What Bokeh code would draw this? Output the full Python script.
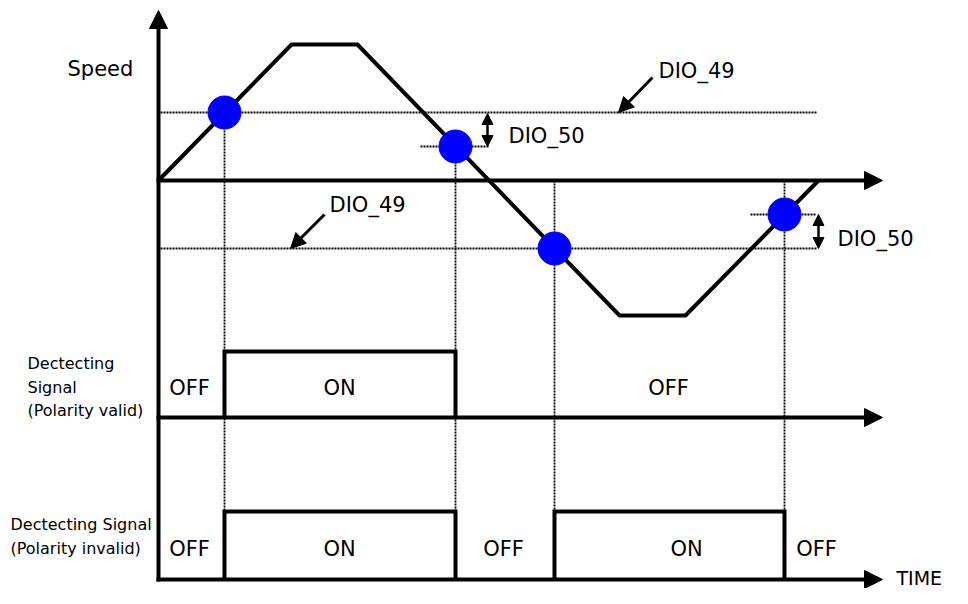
from bokeh.plotting import figure
from bokeh.models import ColumnDataSource, Range1d, Arrow, NormalHead
from bokeh.core.properties import value
from bokeh.embed import file_html
from bokeh.resources import INLINE

# ---------------- data (time units / speed units) ----------------
profile_t = [0, 133, 199, 461, 527, 660]
profile_speed = [0, 136, 136, -135, -135, 0]

dio49_level = 68          # DIO_49 speed threshold
dio50_hyst = 34           # DIO_50 hysteresis width

event_t = [66, 297, 396, 626]
event_speed = [68, 34, -68, -34]

sig_edges = [0, 66, 297, 396, 626, 724]
valid_state = [0, 1, 0, 0, 0]
invalid_state = [0, 1, 0, 1, 0]

valid_labels = ["OFF", "ON", "OFF"]
valid_label_t = [31, 181, 510]
invalid_labels = ["OFF", "ON", "OFF", "ON", "OFF"]
invalid_label_t = [31, 181, 345, 528, 658]

# levels of the three traces (speed axis, valid signal, invalid signal)
speed_zero = 0
valid_base, valid_high, valid_label_y = -237, -171, -207
invalid_base, invalid_high, invalid_label_y = -399, -331, -368
time_end = 724
speed_top = 170

FONT = value("DejaVu Sans")

p = figure(width=952, height=588, output_backend="svg", toolbar_location=None,
           x_range=Range1d(-158, 794), y_range=Range1d(-408, 180),
           x_axis_location=None, y_axis_location=None, min_border=0)
p.outline_line_color = None
p.xgrid.visible = False
p.ygrid.visible = False
p.background_fill_color = "white"

# threshold dashed lines
thr_xs = [[2, 658], [2, 658], [262, 330], [592, 658]]
thr_ys = [[dio49_level] * 2, [-dio49_level] * 2,
          [dio49_level - dio50_hyst] * 2, [-dio49_level + dio50_hyst] * 2]
p.multi_line(thr_xs, thr_ys, line_color="black", line_width=2, line_dash="2 1")

# dotted vertical event markers
v_xs = [[t, t] for t in event_t]
v_ys = [[s if s > 0 else speed_zero, invalid_high] for s in event_speed]
p.multi_line(v_xs, v_ys, line_color="black", line_width=1.8, line_dash="2 1")

# speed profile
p.line(profile_t, profile_speed, line_color="black", line_width=4, line_join="miter")

# signal steps
def step_lines(states, base, high):
    xs, ys = [], []
    for i, s in enumerate(states):
        if s:
            t0, t1 = sig_edges[i], sig_edges[i + 1]
            xs.append([t0, t0, t1, t1])
            ys.append([base, high, high, base])
    return xs, ys

for st, b, h in [(valid_state, valid_base, valid_high), (invalid_state, invalid_base, invalid_high)]:
    xs, ys = step_lines(st, b, h)
    p.multi_line(xs, ys, line_color="black", line_width=4, line_join="miter")

# axes with arrow heads
def axis_arrow(x0, y0, x1, y1):
    p.add_layout(Arrow(end=NormalHead(size=18, fill_color="black", line_color="black", line_width=1),
                       x_start=x0, y_start=y0, x_end=x1, y_end=y1,
                       line_color="black", line_width=4))

axis_arrow(0, invalid_base - 2, 0, speed_top)
for lvl in [speed_zero, valid_base, invalid_base]:
    axis_arrow(-2, lvl, time_end, lvl)

# event dots
p.scatter(event_t, event_speed, size=33, fill_color="#0000FF", line_color="#0000FF")

# pointer arrows for DIO_49
for (x0, y0, x1, y1) in [(494, 103, 460, dio49_level), (166, -34, 132, -dio49_level)]:
    p.add_layout(Arrow(end=NormalHead(size=15, fill_color="black", line_color="black", line_width=1),
                       x_start=x0, y_start=y0, x_end=x1, y_end=y1,
                       line_color="black", line_width=3))

# double arrows for DIO_50
for (xx, ya, yb) in [(329, dio49_level - 1, dio49_level - dio50_hyst),
                     (660, -dio49_level + dio50_hyst, -dio49_level)]:
    p.add_layout(Arrow(start=NormalHead(size=11, fill_color="black", line_color="black", line_width=1),
                       end=NormalHead(size=11, fill_color="black", line_color="black", line_width=1),
                       x_start=xx, y_start=ya, x_end=xx, y_end=yb,
                       line_color="black", line_width=2.5))

# big labels
big = ColumnDataSource(dict(
    x=[-91, 500, 350, 171, 679],
    y=[112, 110, 45, -24, -58],
    text=["Speed", "DIO_49", "DIO_50", "DIO_49", "DIO_50"]))
p.text("x", "y", text="text", source=big, text_font=FONT, text_font_size="21px",
       text_align="left", text_baseline="middle", text_color="black")

p.text(x=[738], y=[invalid_base + 2], text=["TIME"], text_font=FONT, text_font_size="19px",
       text_align="left", text_baseline="middle", text_color="black")

# state labels
st_src = ColumnDataSource(dict(
    x=valid_label_t + invalid_label_t,
    y=[valid_label_y] * len(valid_label_t) + [invalid_label_y] * len(invalid_label_t),
    text=valid_labels + invalid_labels))
p.text("x", "y", text="text", source=st_src, text_font=FONT, text_font_size="21px",
       text_align="center", text_baseline="middle", text_color="black")

# signal names
sm = ColumnDataSource(dict(
    x=[-131, -131, -131, -148, -148],
    y=[-183, -207, -230, -344, -368],
    text=["Dectecting", "Signal", "(Polarity valid)", "Dectecting Signal", "(Polarity invalid)"]))
p.text("x", "y", text="text", source=sm, text_font=FONT, text_font_size="16px",
       text_align="left", text_baseline="middle", text_color="black")

open("out.html", "w").write(file_html(p, INLINE))
